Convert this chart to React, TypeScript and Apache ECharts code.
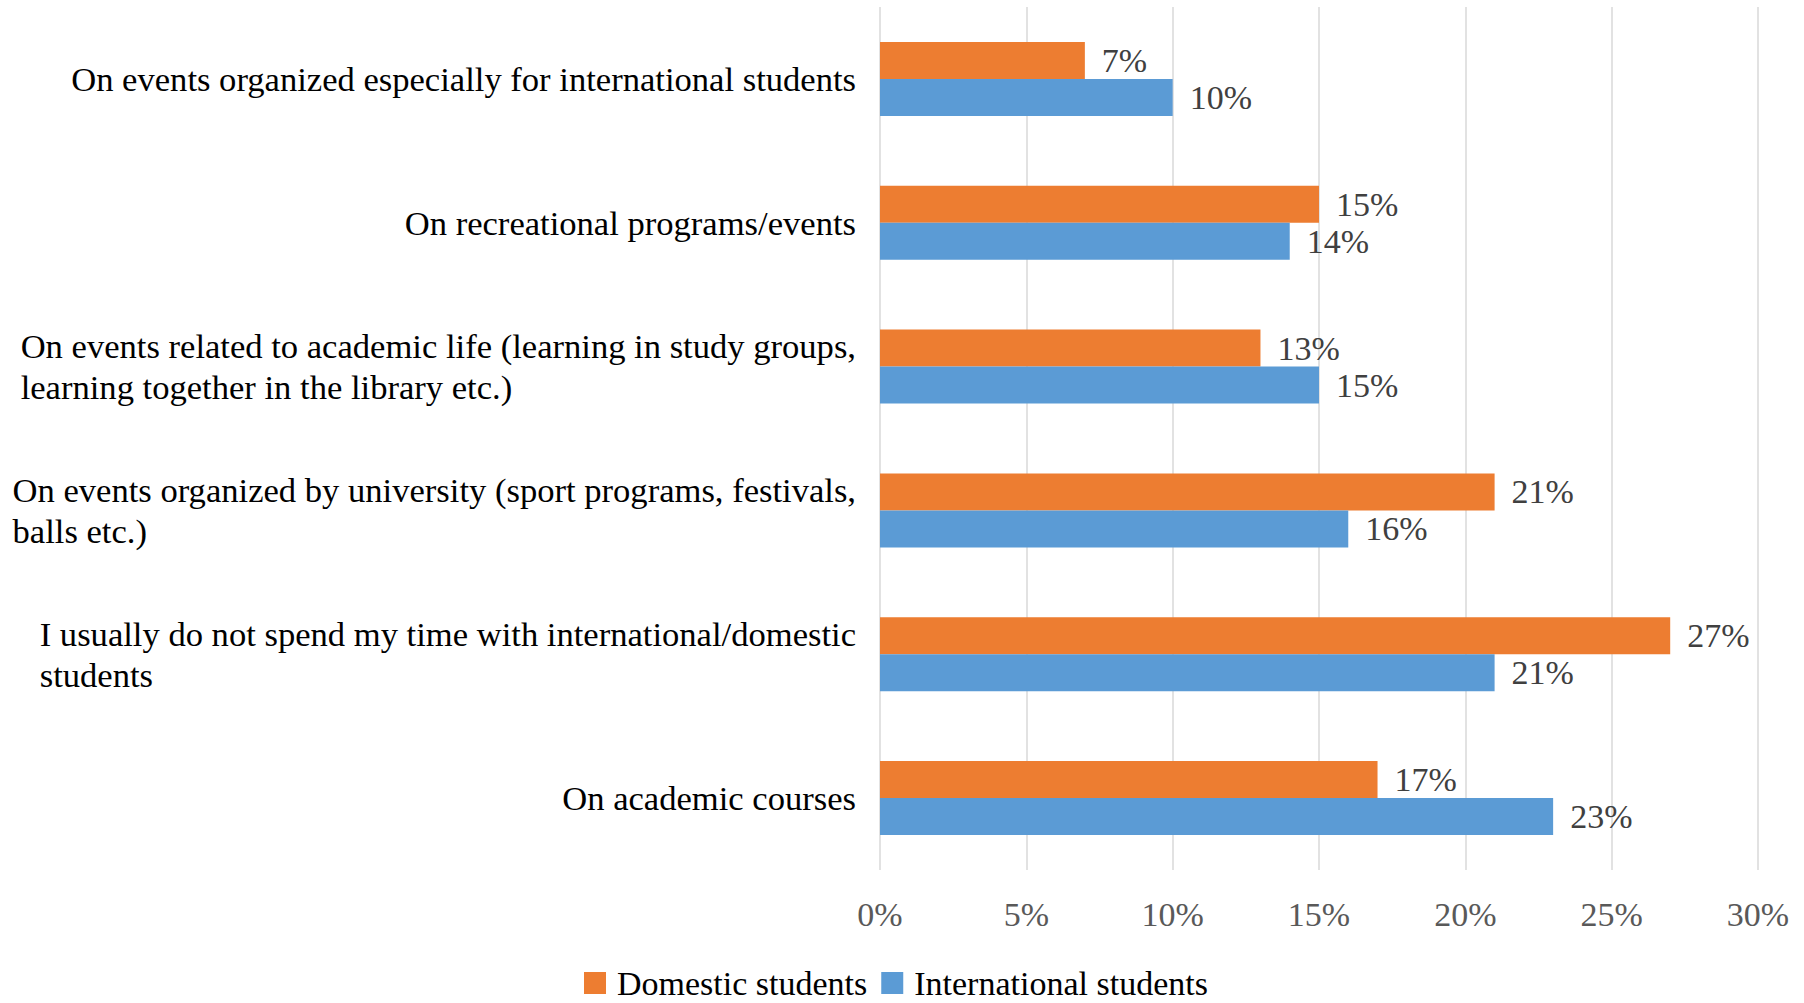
import React, { useEffect, useRef } from "react";
import * as echarts from "echarts";

const categories = [
  "On events organized especially for international students",
  "On recreational programs/events",
  "On events related to academic life (learning in study groups,\nlearning together in the library etc.)",
  "On events organized by university (sport programs, festivals,\nballs etc.)",
  "I usually do not spend my time with international/domestic\nstudents",
  "On academic courses",
];
const domestic = [7, 15, 13, 21, 27, 17];
const international = [10, 14, 15, 16, 21, 23];
const seriesNames = ["Domestic students", "International students"];
const ticks = [0, 5, 10, 15, 20, 25, 30];

const FONT = "'Liberation Serif', 'Times New Roman', serif";

export default function App() {
  const ref = useRef<HTMLDivElement>(null);
  useEffect(() => {
    const chart = echarts.init(ref.current!, null, { renderer: "svg" });
    const labelStyle = {
      show: true,
      position: "right",
      distance: 17,
      formatter: (p: any) => p.value + "%",
      fontFamily: FONT,
      fontSize: 34,
      color: "#404040",
    };
    chart.setOption({
      animation: false,
      backgroundColor: "#ffffff",
      textStyle: { fontFamily: FONT },
      legend: {
        data: seriesNames,
        left: 579,
        top: 961,
        itemWidth: 22,
        itemHeight: 22,
        itemGap: 14,
        icon: "rect",
        textStyle: {
          fontFamily: FONT,
          fontSize: 34,
          color: "#000000",
          lineHeight: 34,
          padding: [0, 0, 0, 6],
        },
      },
      grid: { left: 880, right: 46, top: 7, bottom: 133, containLabel: false },
      xAxis: {
        type: "value",
        min: ticks[0],
        max: ticks[ticks.length - 1],
        interval: 5,
        axisLine: { show: false },
        axisTick: { show: false },
        splitLine: { show: true, lineStyle: { color: "#d9d9d9", width: 1.5 } },
        axisLabel: {
          formatter: (v: number) => v + "%",
          fontFamily: FONT,
          fontSize: 34,
          color: "#595959",
          margin: 27,
        },
      },
      yAxis: {
        type: "category",
        inverse: true,
        data: categories,
        axisLine: { show: false },
        axisTick: { show: false },
        splitLine: { show: false },
        axisLabel: {
          margin: 24,
          interval: 0,
          formatter: (v: string) =>
            v
              .split("\n")
              .map((l) => "{l|" + l + "}")
              .join("\n"),
          rich: {
            l: {
              align: "left",
              fontFamily: FONT,
              fontSize: 34.6,
              lineHeight: 41,
              color: "#000000",
            },
          },
        },
      },
      series: [
        {
          name: seriesNames[0],
          type: "bar",
          data: domestic,
          barGap: "0%",
          barCategoryGap: "48.5%",
          itemStyle: { color: "#ED7D31" },
          label: labelStyle,
        },
        {
          name: seriesNames[1],
          type: "bar",
          data: international,
          barGap: "0%",
          barCategoryGap: "48.5%",
          itemStyle: { color: "#5B9BD5" },
          label: labelStyle,
        },
      ],
    });
    return () => chart.dispose();
  }, []);
  return (
    <div
      ref={ref}
      style={{ position: "fixed", left: 0, top: 0, width: 1804, height: 1003, background: "#fff" }}
    />
  );
}
